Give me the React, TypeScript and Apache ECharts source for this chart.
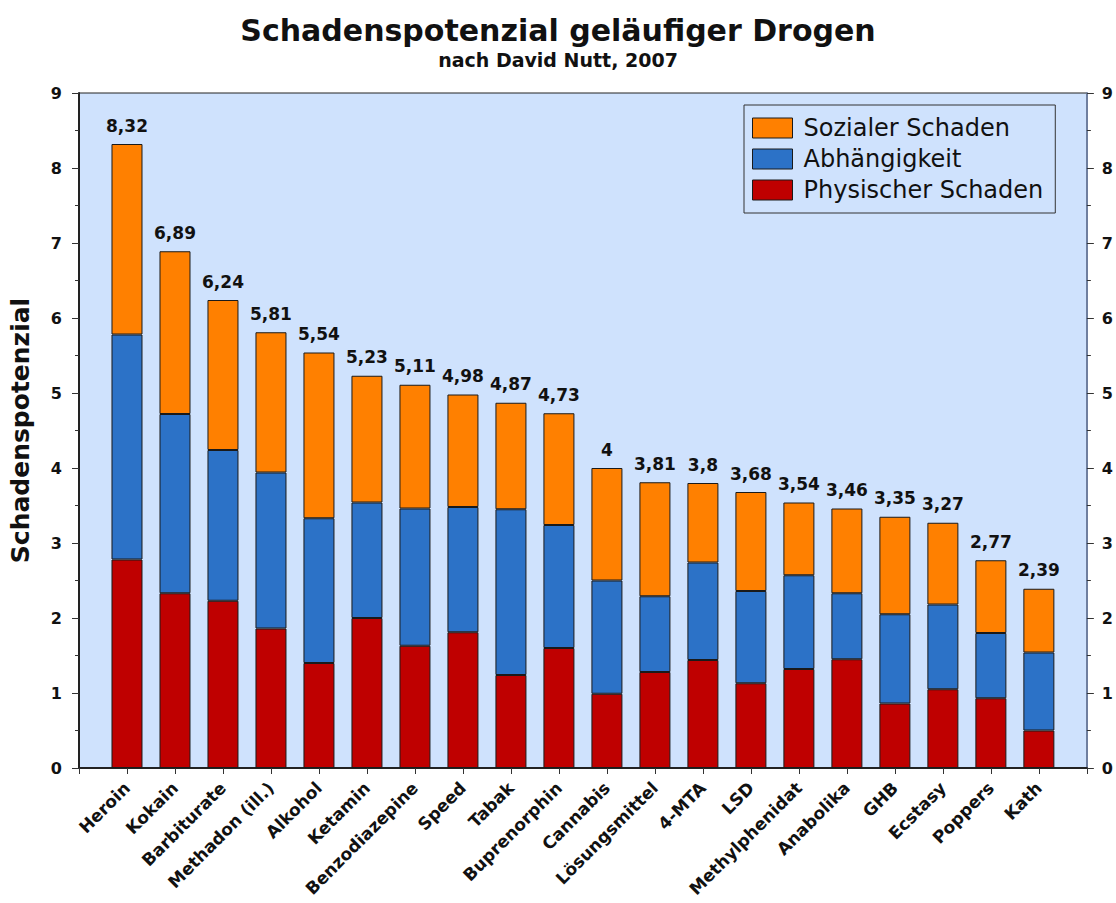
import React, { useEffect, useRef } from "react";
import * as echarts from "echarts";

const categories = [
  "Heroin", "Kokain", "Barbiturate", "Methadon (ill.)", "Alkohol", "Ketamin",
  "Benzodiazepine", "Speed", "Tabak", "Buprenorphin", "Cannabis", "Lösungsmittel",
  "4-MTA", "LSD", "Methylphenidat", "Anabolika", "GHB", "Ecstasy", "Poppers", "Kath",
];
const physical = [2.78, 2.33, 2.23, 1.86, 1.4, 2.0, 1.63, 1.81, 1.24, 1.6, 0.99, 1.28, 1.44, 1.13, 1.32, 1.45, 0.86, 1.05, 0.93, 0.5];
const dependence = [3.0, 2.39, 2.01, 2.08, 1.93, 1.54, 1.83, 1.67, 2.21, 1.64, 1.51, 1.01, 1.3, 1.23, 1.25, 0.88, 1.19, 1.13, 0.87, 1.04];
const social = [2.54, 2.17, 2.0, 1.87, 2.21, 1.69, 1.65, 1.5, 1.42, 1.49, 1.5, 1.52, 1.06, 1.32, 0.97, 1.13, 1.3, 1.09, 0.97, 0.85];
const totalLabels = ["8,32", "6,89", "6,24", "5,81", "5,54", "5,23", "5,11", "4,98", "4,87", "4,73", "4", "3,81", "3,8", "3,68", "3,54", "3,46", "3,35", "3,27", "2,77", "2,39"];
const yTicks = [0, 1, 2, 3, 4, 5, 6, 7, 8, 9];

const FONT = "DejaVu Sans";

export default function App() {
  const ref = useRef<HTMLDivElement>(null);
  useEffect(() => {
    if (!ref.current) return;
    const chart = echarts.init(ref.current, null, { renderer: "svg" });
    const cats = ["", ...categories, ""];
    const pad = (arr: number[]) => ["-", ...arr, "-"];
    const barStyle = (color: string) => ({ color, borderColor: "#1a1a1a", borderWidth: 1 });
    const yAxisCommon = {
      type: "value",
      min: yTicks[0],
      max: yTicks[yTicks.length - 1],
      interval: 1,
      splitLine: { show: false },
      axisTick: { show: true, length: 7, lineStyle: { color: "#333", width: 1 } },
      minorTick: { show: true, splitNumber: 2, length: 4, lineStyle: { color: "#333" } },
      axisLabel: { fontFamily: FONT, fontWeight: "bold", fontSize: 16, color: "#111" },
    };
    chart.setOption({
      animation: false,
      title: [
        {
          text: "Schadenspotenzial geläufiger Drogen",
          left: "center",
          top: 10,
          textStyle: { fontFamily: FONT, fontWeight: "bold", fontSize: 30, color: "#111" },
        },
        {
          text: "nach David Nutt, 2007",
          left: "center",
          top: 45,
          textStyle: { fontFamily: FONT, fontWeight: "bold", fontSize: 19, color: "#111" },
        },
      ],
      legend: {
        data: ["Sozialer Schaden", "Abhängigkeit", "Physischer Schaden"],
        orient: "vertical",
        left: 744,
        top: 105,
        icon: "rect",
        itemWidth: 40,
        itemHeight: 20,
        itemGap: 7,
        padding: [11, 12, 11, 8],
        backgroundColor: "#cfe2fd",
        borderColor: "#333",
        borderWidth: 1,
        itemStyle: { borderColor: "#1a1a1a", borderWidth: 1 },
        textStyle: { fontFamily: FONT, fontSize: 24, lineHeight: 24, color: "#111", padding: [0, 0, 0, 6] },
      },
      grid: {
        left: 79,
        right: 27,
        top: 93,
        bottom: 135,
        show: true,
        backgroundColor: "#cfe2fd",
        borderColor: "#222",
        borderWidth: 1,
      },
      xAxis: {
        type: "category",
        data: cats,
        boundaryGap: false,
        axisLine: { lineStyle: { color: "#222", width: 2 } },
        axisTick: { show: true, length: 6, lineStyle: { color: "#333" } },
        axisLabel: {
          rotate: 45,
          interval: 0,
          margin: 17,
          fontFamily: FONT,
          fontWeight: "bold",
          fontSize: 17,
          color: "#111",
        },
      },
      yAxis: [
        {
          ...yAxisCommon,
          position: "left",
          name: "Schadenspotenzial",
          nameLocation: "middle",
          nameGap: 46,
          nameRotate: 90,
          nameTextStyle: { fontFamily: FONT, fontWeight: "bold", fontSize: 25, color: "#111" },
          axisLine: { show: true, lineStyle: { color: "#222", width: 2 } },
          axisLabel: { ...yAxisCommon.axisLabel, margin: 17 },
        },
        {
          ...yAxisCommon,
          position: "right",
          axisLine: { show: true, lineStyle: { color: "#6f7f9f", width: 2 } },
          axisLabel: { ...yAxisCommon.axisLabel, margin: 15 },
        },
      ],
      series: [
        {
          name: "Physischer Schaden",
          type: "bar",
          stack: "total",
          barWidth: 31,
          data: pad(physical),
          itemStyle: barStyle("#bf0000"),
        },
        {
          name: "Abhängigkeit",
          type: "bar",
          stack: "total",
          barWidth: 31,
          data: pad(dependence),
          itemStyle: barStyle("#2c72c7"),
        },
        {
          name: "Sozialer Schaden",
          type: "bar",
          stack: "total",
          barWidth: 31,
          data: pad(social),
          itemStyle: barStyle("#ff8000"),
          label: {
            show: true,
            position: "top",
            distance: 10,
            fontFamily: FONT,
            fontWeight: "bold",
            fontSize: 17,
            color: "#111",
            formatter: (p: any) => totalLabels[p.dataIndex - 1] ?? "",
          },
        },
      ],
    });
    return () => chart.dispose();
  }, []);
  return (
    <div
      ref={ref}
      style={{ position: "fixed", left: 0, top: 0, width: 1116, height: 903, background: "#fff" }}
    />
  );
}
